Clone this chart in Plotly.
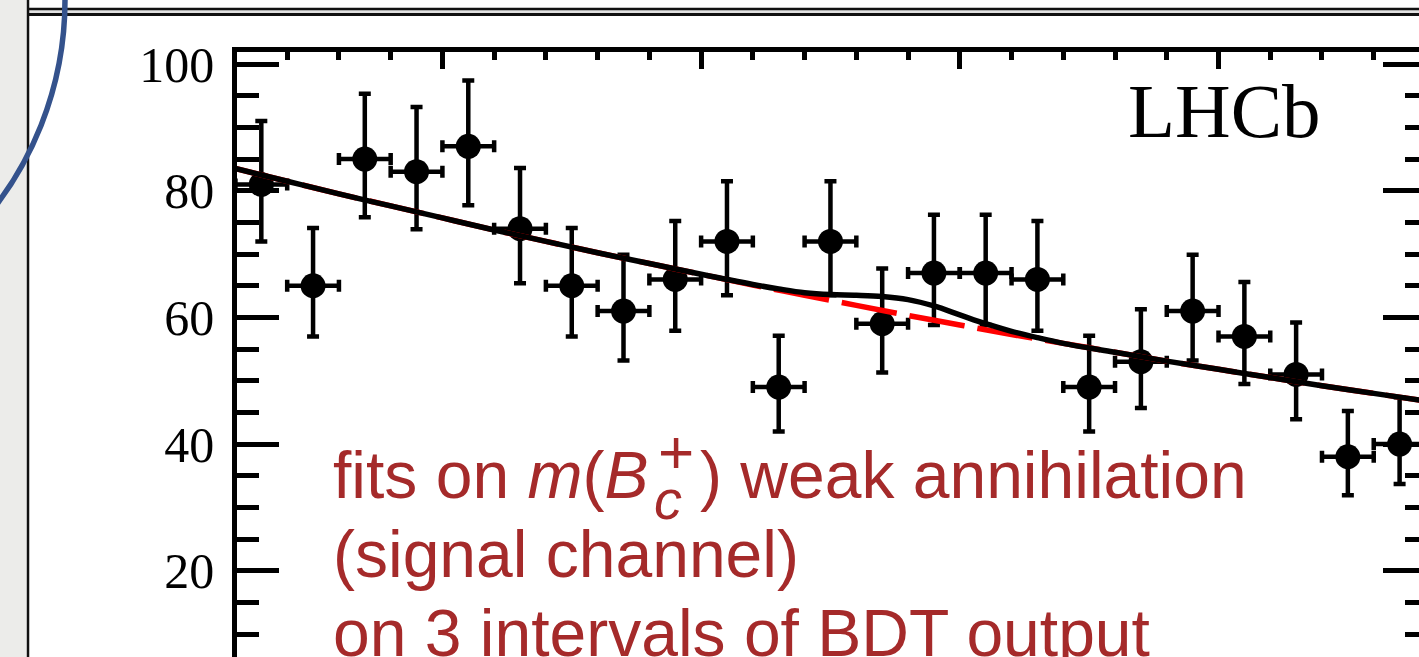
import plotly.graph_objects as go

# ---------------- figure geometry ----------------
W, H = 1419, 657
ML, MR, MT, MB = 237, 0, 52, 0
PW, PH = W - ML - MR, H - MT - MB


def px(xpix):
    return (xpix - ML) / PW


def py(ypix):
    return (H - MB - ypix) / PH


# ---------------- data ----------------
bin_centers = [6030, 6050, 6070, 6090, 6110, 6130, 6150, 6170, 6190, 6210, 6230, 6250,
               6270, 6290, 6310, 6330, 6350, 6370, 6390, 6410, 6430, 6450, 6470]
counts = [81, 65, 85, 83, 87, 74, 65, 61, 66, 72, 49, 72,
          59, 67, 67, 66, 49, 53, 61, 57, 51, 38, 40]
err_up = [10.0, 9.1, 10.3, 10.2, 10.4, 9.6, 9.1, 8.9, 9.2, 9.5, 8.1, 9.5,
          8.7, 9.2, 9.2, 9.2, 8.1, 8.3, 8.9, 8.6, 8.2, 7.2, 7.4]
err_down = [9.0, 8.0, 9.2, 9.1, 9.3, 8.6, 8.0, 7.8, 8.1, 8.5, 7.0, 8.5,
            7.7, 8.2, 8.2, 8.1, 7.0, 7.3, 7.8, 7.5, 7.1, 6.1, 6.3]
bin_half_width = 10

bkg_mass = [6020, 6040, 6060, 6080, 6100, 6120, 6140, 6160, 6180, 6200, 6220, 6240,
            6260, 6280, 6300, 6320, 6340, 6360, 6380, 6400, 6420, 6440, 6460, 6480]
bkg_yield = [83.5, 81.5, 79.5, 77.6, 75.7, 73.8, 72.0, 70.2, 68.5, 66.8, 65.1, 63.5,
             61.9, 60.3, 58.8, 57.3, 55.9, 54.5, 53.1, 51.8, 50.5, 49.2, 48.0, 46.8]

tot_mass = [6020, 6040, 6060, 6080, 6100, 6120, 6140, 6160, 6180, 6200, 6220, 6230,
            6240, 6250, 6260, 6270, 6280, 6290, 6300, 6310, 6320, 6330, 6340, 6360,
            6380, 6400, 6420, 6440, 6460, 6480]
tot_yield = [83.5, 81.5, 79.5, 77.6, 75.7, 73.8, 72.0, 70.2, 68.5, 66.8, 65.2, 64.5,
             63.9, 63.6, 63.5, 63.3, 62.8, 61.8, 60.4, 59.0, 57.8, 56.8, 55.9, 54.5,
             53.1, 51.8, 50.5, 49.2, 48.0, 46.8]

y_tick_vals = [20, 40, 60, 80, 100]
y_tick_text = ["20", "40", "60", "80", "100"]

X_RANGE = [6020.6, 6477.5]
Y_RANGE = [6.38, 101.9]

RED_TEXT = "#a52a2a"
SERIF = "Liberation Serif, Times New Roman, serif"
SANS = "Liberation Sans, Arial, Helvetica, sans-serif"

fig = go.Figure()

# data points
fig.add_trace(go.Scatter(
    x=bin_centers, y=counts, mode="markers",
    marker=dict(size=25, color="black", line=dict(width=0)),
    error_y=dict(type="data", symmetric=False, array=err_up, arrayminus=err_down,
                 thickness=4.5, width=6, color="black"),
    error_x=dict(type="constant", value=bin_half_width, thickness=4.5, width=6, color="black"),
    hoverinfo="skip",
))

# background (red dashed)
fig.add_trace(go.Scatter(
    x=bkg_mass, y=bkg_yield, mode="lines",
    line=dict(color="#ff0000", width=5.5, dash="56px,13px", shape="spline"),
    hoverinfo="skip",
))

# total fit (black)
fig.add_trace(go.Scatter(
    x=tot_mass, y=tot_yield, mode="lines",
    line=dict(color="black", width=5.5, shape="spline"),
    hoverinfo="skip",
))

# invisible trace to activate the right-hand tick axis
fig.add_trace(go.Scatter(
    x=bin_centers[:1], y=counts[:1], mode="markers", yaxis="y2",
    marker=dict(size=1, opacity=0), hoverinfo="skip",
))

fig.update_layout(
    width=W, height=H,
    margin=dict(l=ML, r=MR, t=MT, b=MB, pad=0),
    paper_bgcolor="white", plot_bgcolor="white",
    showlegend=False,
    xaxis=dict(
        range=X_RANGE, side="top", showline=True, linewidth=4.5, linecolor="black",
        mirror=False, ticks="inside", ticklen=17, tickwidth=4.5, tickcolor="black",
        tick0=6000, dtick=100, showticklabels=False, showgrid=False, zeroline=False,
        minor=dict(ticks="inside", ticklen=8, tickwidth=4.5, tickcolor="black",
                   tick0=6000, dtick=20, showgrid=False),
    ),
    yaxis=dict(
        range=Y_RANGE, side="left", showline=True, linewidth=4.5, linecolor="black",
        ticks="inside", ticklen=42, tickwidth=4.5, tickcolor="black",
        tickmode="array", tickvals=y_tick_vals, ticktext=y_tick_text,
        tickfont=dict(family=SERIF, size=50, color="black"),
        ticklabelstandoff=8,
        showgrid=False, zeroline=False,
        minor=dict(ticks="inside", ticklen=22, tickwidth=4.5, tickcolor="black",
                   tick0=0, dtick=5, showgrid=False),
    ),
    yaxis2=dict(
        range=Y_RANGE, overlaying="y", side="right", anchor="x",
        showline=False, ticks="inside", ticklen=36, tickwidth=4.5, tickcolor="black",
        tick0=0, dtick=20, showticklabels=False, showgrid=False, zeroline=False,
        minor=dict(ticks="inside", ticklen=14, tickwidth=4.5, tickcolor="black",
                   tick0=0, dtick=5, showgrid=False),
    ),
)

# ---------------- slide decorations ----------------
shapes = [
    # grey strip on the left
    dict(type="rect", xref="paper", yref="paper", x0=px(-5), x1=px(26.5), y0=py(H + 5), y1=py(-5),
         fillcolor="#ececea", line=dict(width=0), layer="above"),
    # grey gap between the two boxes at the top
    dict(type="rect", xref="paper", yref="paper", x0=px(28), x1=px(W + 5), y0=py(13.5), y1=py(9.5),
         fillcolor="#e2e2e2", line=dict(width=0), layer="above"),
    # vertical frame line
    dict(type="line", xref="paper", yref="paper", x0=px(28), x1=px(28), y0=py(H + 5), y1=py(-5),
         line=dict(color="#111111", width=2.5), layer="above"),
    # top double line
    dict(type="line", xref="paper", yref="paper", x0=px(28), x1=px(W + 5), y0=py(9), y1=py(9),
         line=dict(color="#111111", width=2.5), layer="above"),
    dict(type="line", xref="paper", yref="paper", x0=px(28), x1=px(W + 5), y0=py(14.5), y1=py(14.5),
         line=dict(color="#111111", width=3), layer="above"),
    # blue arc
    dict(type="circle", xref="paper", yref="paper", x0=px(-615), x1=px(65), y0=py(340), y1=py(-340),
         line=dict(color="#34528c", width=5.5), fillcolor="rgba(0,0,0,0)", layer="above"),
]
fig.update_layout(shapes=shapes)

# ---------------- text ----------------
annotations = [
    dict(text="LHCb", x=px(1126), y=py(66), xanchor="left", yanchor="top",
         font=dict(family=SERIF, size=77, color="black")),
    dict(text="fits on <i>m</i>(<i>B</i>", x=px(331), y=py(436), xanchor="left", yanchor="top",
         font=dict(family=SANS, size=66, color=RED_TEXT)),
    dict(text="<i>c</i>", x=px(652), y=py(466), xanchor="left", yanchor="top",
         font=dict(family=SANS, size=56, color=RED_TEXT)),
    dict(text="+", x=px(656), y=py(415), xanchor="left", yanchor="top",
         font=dict(family=SANS, size=62, color=RED_TEXT)),
    dict(text=") weak annihilation", x=px(698), y=py(436), xanchor="left", yanchor="top",
         font=dict(family=SANS, size=66, color=RED_TEXT)),
    dict(text="(signal channel)", x=px(331), y=py(515), xanchor="left", yanchor="top",
         font=dict(family=SANS, size=66, color=RED_TEXT)),
    dict(text="on 3 intervals of BDT output", x=px(331), y=py(594), xanchor="left", yanchor="top",
         font=dict(family=SANS, size=66, color=RED_TEXT)),
]
for a in annotations:
    a.update(xref="paper", yref="paper", showarrow=False)
fig.update_layout(annotations=annotations)

fig.write_html("out.html")
